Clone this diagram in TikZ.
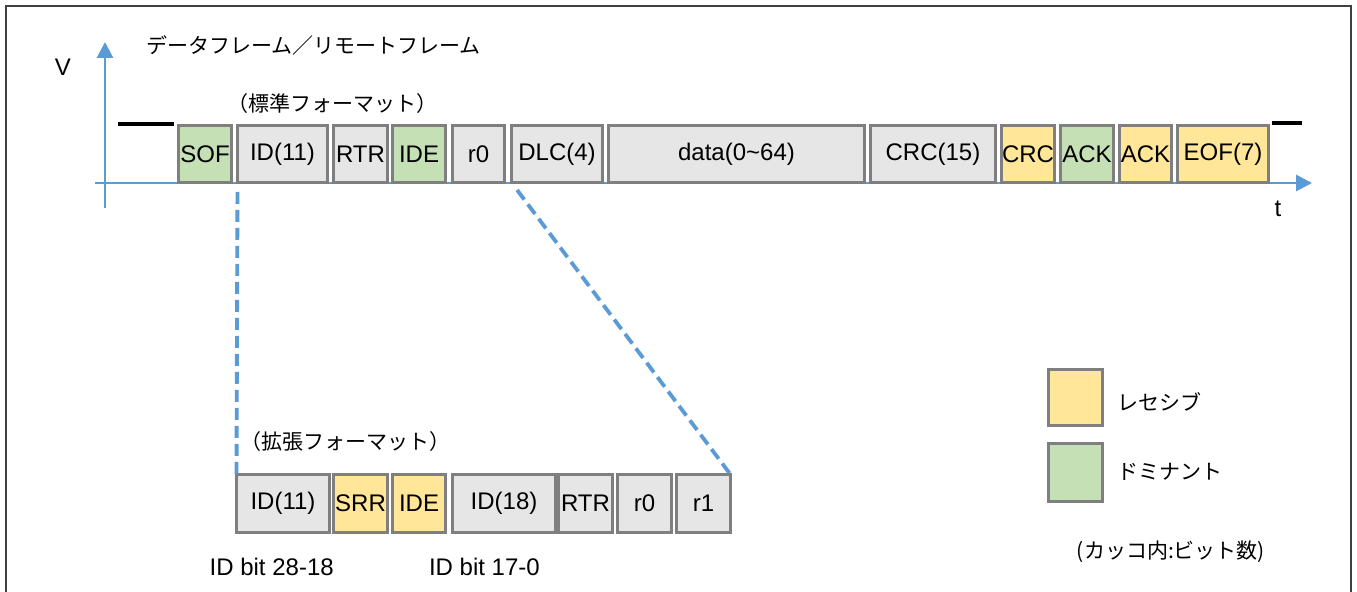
\documentclass[tikz,border=0pt]{standalone}
\usepackage{fontspec}
\setmainfont{Liberation Sans}
\newfontfamily\jp{Noto Sans CJK JP}
\usetikzlibrary{arrows.meta}
\definecolor{boxgray}{HTML}{E6E6E6}
\definecolor{boxgreen}{HTML}{C5E0B4}
\definecolor{boxyellow}{HTML}{FFE699}
\definecolor{boxline}{HTML}{7F7F7F}
\definecolor{axisblue}{HTML}{5B9BD5}
\definecolor{frameline}{HTML}{404040}
\tikzset{
  fbox/.style={draw=boxline, line width=2.2pt, inner sep=0pt, outer sep=0pt,
    minimum height=57*0.75pt, font=\fontsize{18}{20}\selectfont},
  gbox/.style={fbox, fill=boxgray},
  grbox/.style={fbox, fill=boxgreen},
  ybox/.style={fbox, fill=boxyellow},
  bw/.style={minimum width=#1*0.75pt},
  bh/.style={minimum height=#1*0.75pt},
  axis/.style={draw=axisblue, line width=2.2pt, -{Triangle[length=12pt,width=12pt]}},
  level/.style={draw=black, line width=2.6pt},
  zoomline/.style={draw=axisblue, line width=2.9pt, dash pattern=on 9pt off 4.5pt},
  lbl/.style={inner sep=0pt, font=\fontsize{18}{20}\selectfont},
  jlbl/.style={inner sep=0pt, font=\jp\fontsize{15.75}{18}\selectfont},
}
\begin{document}
\begin{tikzpicture}[x=0.75pt,y=-0.75pt]
\useasboundingbox (0,0) rectangle (1357,592);
% frame
\draw[frameline, line width=1.4pt] (6,592) -- (6,6) -- (1351,6) -- (1351,592);

% axes
\coordinate (vbot) at (105,208);
\coordinate (vtop) at (105,42);
\coordinate (hleft) at (95,183);
\coordinate (hright) at (1312,183);
\draw[axis] (vbot) -- (vtop);
\draw[axis] (hleft) -- (hright);
\node[lbl] (vlab) at (63,67) {V};
\node[lbl] (tlab) at (1278,209) {t};

% level lines
\coordinate (l1a) at (118,124);
\coordinate (l1b) at (174,124);
\coordinate (l2a) at (1272,123);
\coordinate (l2b) at (1302,123);
\draw[level] (l1a) -- (l1b);
\draw[level] (l2a) -- (l2b);

% titles
\node[jlbl] (title) at (313.5,45) {データフレーム／リモートフレーム};
\node[jlbl] (std) at (332,104) {（標準フォーマット）};
\node[jlbl] (ext) at (345,442) {（拡張フォーマット）};

% standard frame
\node[grbox, bw=53] (sof) at (205,154) {SOF};
\node[gbox, bw=90] (id11) at (282.5,154) {ID(11)};
\node[gbox, bw=54] (rtr) at (360.5,154) {RTR};
\node[grbox, bw=53] (ide) at (419,154) {IDE};
\node[gbox, bw=52] (r0) at (478.5,154) {r0};
\node[gbox, bw=91] (dlc) at (557,154) {DLC(4)};
\node[gbox, bw=256] (data) at (736.5,154) {data(0\char"7E 64)};
\node[gbox, bw=125] (crc15) at (933,154) {CRC(15)};
\node[ybox, bw=53] (crcd) at (1028,154) {CRC};
\node[grbox, bw=53] (ack) at (1087,154) {ACK};
\node[ybox, bw=52] (ackd) at (1145.5,154) {ACK};
\node[ybox, bw=91] (eof) at (1223,154) {EOF(7)};

% extended frame
\node[gbox, bw=93, bh=58] (xid11) at (283,503.5) {ID(11)};
\node[ybox, bw=54, bh=58] (srr) at (360.5,503.5) {SRR};
\node[ybox, bw=53, bh=58] (xide) at (419,503.5) {IDE};
\node[gbox, bw=103, bh=58] (id18) at (504,503.5) {ID(18)};
\node[gbox, bw=54, bh=58] (xrtr) at (585.5,503.5) {RTR};
\node[gbox, bw=54, bh=58] (xr0) at (644.5,503.5) {r0};
\node[gbox, bw=54, bh=58] (xr1) at (703.5,503.5) {r1};

% zoom lines
\draw[zoomline, shorten <=7pt] (id11.south west) -- (xid11.north west);
\draw[zoomline, shorten <=7pt] (dlc.south west) -- (xr1.north east);

% bit labels
\node[lbl, anchor=east] (bits1) at (334,567) {ID bit 28-18};
\node[lbl, anchor=east] (bits2) at (540,567) {ID bit 17-0};

% legend
\node[ybox, bw=54, bh=56] (legy) at (1075.5,397.5) {};
\node[grbox, bw=54, bh=58] (legg) at (1075.5,472.5) {};
\node[jlbl, anchor=west] (legyt) at (1117,402) {レセシブ};
\node[jlbl, anchor=west] (leggt) at (1117,472) {ドミナント};
\node[jlbl] (note) at (1171,552) {(カッコ内:ビット数)};
\end{tikzpicture}
\end{document}
